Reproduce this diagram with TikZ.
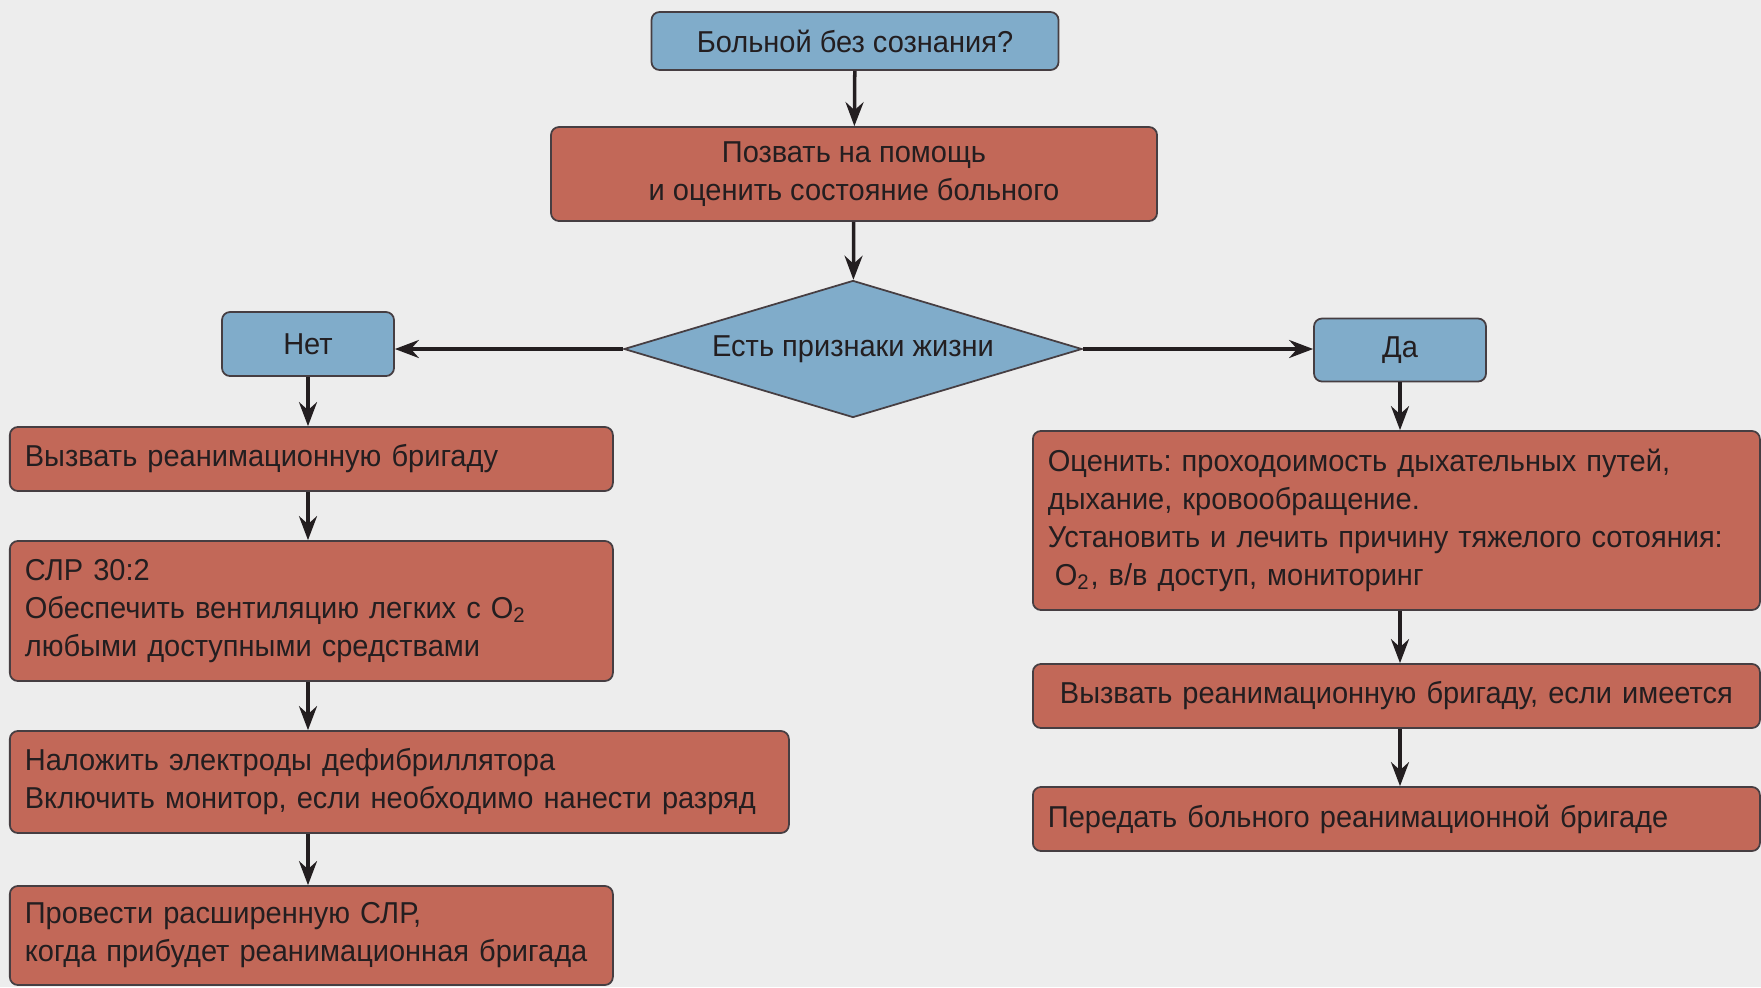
\documentclass[tikz,border=0pt]{standalone}
\usepackage{fontspec}
\setmainfont[FakeStretch=0.96]{Liberation Sans}
\usetikzlibrary{shapes.geometric,arrows.meta}
\definecolor{bg}{RGB}{237,237,237}
\definecolor{qblue}{RGB}{128,172,202}
\definecolor{actred}{RGB}{194,104,88}
\definecolor{rim}{RGB}{70,62,66}
\definecolor{ink}{RGB}{35,30,32}
\frenchspacing
\begin{document}
\begin{tikzpicture}
\tikzstyle{b}=[draw=rim, line width=0.5pt, text=ink, inner sep=0pt, font=\fontsize{8.6}{10.8}\selectfont];
\tikzstyle{q}=[b, rounded corners=0.08cm, fill=qblue, align=center];
\tikzstyle{act}=[b, rounded corners=0.08cm, fill=actred, align=center];
\tikzstyle{la}=[act, anchor=west, align=left, inner xsep=0.15cm];
\tikzstyle{ask}=[b, diamond, aspect=3.34, fill=qblue, minimum width=4.58cm, minimum height=1.37cm];
\tikzstyle{arr}=[draw=ink, line width=1pt, -{Stealth[length=0.24cm, width=0.18cm, inset=0.08cm]}];
\fill [bg] (0,0) rectangle (17.61,-9.87);
\useasboundingbox (0,0) rectangle (17.61,-9.87);
\node [q, minimum width=4.07cm, minimum height=0.58cm] (v1) at (8.55,-0.41) {Больной без сознания?};
\node [act, minimum width=6.06cm, minimum height=0.94cm] (v2) at (8.54,-1.74) {Позвать на помощь\\и оценить состояние больного};
\node [ask] (v3) at (8.53,-3.49) {Есть признаки жизни};
\node [q, minimum width=1.72cm, minimum height=0.64cm] (v4) at (3.08,-3.44) {Нет};
\node [q, minimum width=1.72cm, minimum height=0.63cm] (v5) at (14.00,-3.50) {Да};
% left branch
\node [la, text width=5.73cm, minimum height=0.64cm] (v6) at (0.09,-4.59) {Вызвать реанимационную бригаду};
\node [la, text width=5.73cm, minimum height=1.40cm] (v7) at (0.09,-6.11) {СЛР 30:2\\Обеспечить вентиляцию легких с O\textsubscript{2}\\любыми доступными средствами};
\node [la, text width=7.49cm, minimum height=1.02cm] (v8) at (0.09,-7.82) {Наложить электроды дефибриллятора\\Включить монитор, если необходимо нанести разряд};
\node [la, text width=5.73cm, minimum height=0.99cm] (v9) at (0.09,-9.355) {Провести расширенную СЛР,\\когда прибудет реанимационная бригада};
% right branch
\node [la, text width=6.97cm, minimum height=1.79cm] (v10) at (10.32,-5.205) {Оценить: проходоимость дыхательных путей,\\дыхание, кровообращение.\\Установить и лечить причину тяжелого сотояния:\\\hspace*{2pt}O\textsubscript{2}, в/в доступ, мониторинг};
\node [la, align=center, text width=6.97cm, minimum height=0.64cm] (v11) at (10.32,-6.96) {Вызвать реанимационную бригаду, если имеется};
\node [la, text width=6.97cm, minimum height=0.64cm] (v12) at (10.32,-8.19) {Передать больного реанимационной бригаде};
\draw (v1) edge [arr] (v2);
\draw (v2) edge [arr] (v3);
\draw (v3.west) edge [arr] (v3.west -| v4.east);
\draw (v3.east) edge [arr] (v3.east -| v5.west);
\draw (v4.south) edge [arr] (v4.south |- v6.north);
\draw (v4.south |- v6.south) edge [arr] (v4.south |- v7.north);
\draw (v4.south |- v7.south) edge [arr] (v4.south |- v8.north);
\draw (v4.south |- v8.south) edge [arr] (v4.south |- v9.north);
\draw (v5.south) edge [arr] (v5.south |- v10.north);
\draw (v5.south |- v10.south) edge [arr] (v5.south |- v11.north);
\draw (v5.south |- v11.south) edge [arr] (v5.south |- v12.north);
\end{tikzpicture}
\end{document}
